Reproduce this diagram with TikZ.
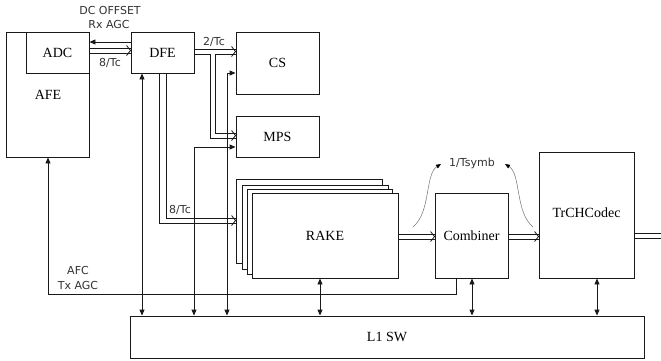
\documentclass[tikz,border=0pt]{standalone}
\usepackage{fontspec}
\setmainfont{Liberation Serif}
\newfontfamily\labfont{DejaVu Sans}
\usetikzlibrary{arrows.meta}
\begin{document}
\begin{tikzpicture}[x=1pt,y=-1pt,
  box/.style={draw=black!90,line width=0.9pt,fill=white,inner sep=0pt,font=\fontsize{14}{16}\selectfont},
  lab/.style={inner sep=0pt,text=black!80,font=\labfont\fontsize{11}{12}\selectfont},
  wire/.style={draw=black!90,line width=0.9pt},
  bus/.style={draw=black!90,line width=0.8pt},
  sarr/.style={wire,{Triangle[length=6pt,width=5pt]}-{Triangle[length=6pt,width=5pt]}},
  oarr/.style={wire,-{Triangle[length=6pt,width=5pt]}},
  chev/.pic={\draw[bus] (-4,-5) -- (0,0) -- (-4,5);},
  curv/.style={draw=black!55,line width=0.5pt,-{Triangle[length=5pt,width=4pt,color=black]}}]
\fill[white] (0,0) rectangle (661,360);
\useasboundingbox (0,0) rectangle (661,360);
% boxes
\node[box,minimum width=83pt,minimum height=125pt] (AFE) at (47.5,94.5) {};
\node[inner sep=0pt,font=\fontsize{14}{16}\selectfont] (AFEt) at (48,95) {AFE};
\node[box,minimum width=63pt,minimum height=41pt] (ADC) at (57.5,52.5) {ADC};
\node[box,minimum width=63pt,minimum height=41pt] (DFE) at (162.5,52.5) {DFE};
\node[box,minimum width=83pt,minimum height=62pt] (CS) at (277.5,63) {CS};
\node[box,minimum width=83pt,minimum height=41pt] (MPS) at (277.5,136.5) {MPS};
\node[box,minimum width=146pt,minimum height=84pt] (rk1) at (309,221) {};
\node[box,minimum width=146pt,minimum height=84pt] (rk2) at (315,227) {};
\node[box,minimum width=145pt,minimum height=85pt] (rk3) at (319.5,231.5) {};
\node[box,minimum width=146pt,minimum height=85pt] (RAKE) at (325,235.5) {RAKE};
\node[box,minimum width=73pt,minimum height=85pt] (Comb) at (471.5,235.5) {Combiner};
\node[box,minimum width=95pt,minimum height=126pt] (TrCH) at (586.5,215) {};
\node[inner sep=0pt,font=\fontsize{14}{16}\selectfont] (TrCHt) at (586.5,213) {TrCHCodec};
\node[box,minimum width=514pt,minimum height=42pt] (L1) at (387,337) {L1 SW};
% helper coordinates
\coordinate (yRx) at (0,42);
\coordinate (yA1) at (0,48);   \coordinate (yA2) at (0,53);  \coordinate (yAc) at (0,50.5);
\coordinate (yC1) at (0,49);   \coordinate (yC2) at (0,54);  \coordinate (yCc) at (0,51.5);
\coordinate (xM1) at (210,0);  \coordinate (xM2) at (215,0);
\coordinate (yM1) at (0,138);  \coordinate (yM2) at (0,133); \coordinate (yMc) at (0,135.5);
\coordinate (xR1) at (159,0);  \coordinate (xR2) at (166,0);
\coordinate (yR1) at (0,223);  \coordinate (yR2) at (0,218); \coordinate (yRc) at (0,220.5);
\coordinate (yB1) at (0,234);  \coordinate (yB2) at (0,239); \coordinate (yBc) at (0,236.5);
\coordinate (edge1) at (668,233.5); \coordinate (edge2) at (668,238.5);
\coordinate (xD) at (142,0);
\coordinate (xM) at (194,0);
\coordinate (yM) at (0,147);
\coordinate (xC) at (227,0);
\coordinate (yC) at (0,73);
\coordinate (xR) at (320,0);
\coordinate (xCo) at (472,0);
\coordinate (xT) at (597,0);
\coordinate (xF) at (456,0);
\coordinate (yF) at (0,294);
\coordinate (xA) at (48,0);
% bus (double line) connectors
% ADC => DFE
\draw[bus] (ADC.east |- yA1) -- (DFE.west |- yA1);
\draw[bus] (ADC.east |- yA2) -- (DFE.west |- yA2);
\pic at (DFE.west |- yAc) {chev};
% DFE => CS
\draw[bus] (DFE.east |- yC1) -- (CS.west |- yC1);
\draw[bus] (xM2 |- yC2) -- (CS.west |- yC2);
\pic at (CS.west |- yCc) {chev};
% DFE => MPS
\draw[bus] (DFE.east |- yC2) -| (xM1 |- yM1) -- (MPS.west |- yM1);
\draw[bus] (xM2 |- yC2) |- (MPS.west |- yM2);
\pic at (MPS.west |- yMc) {chev};
% DFE => RAKE
\draw[bus] (DFE.south -| xR1) |- (rk1.west |- yR1);
\draw[bus] (DFE.south -| xR2) |- (rk1.west |- yR2);
\pic at (rk1.west |- yRc) {chev};
% RAKE => Combiner
\draw[bus] (RAKE.east |- yB1) -- (Comb.west |- yB1);
\draw[bus] (RAKE.east |- yB2) -- (Comb.west |- yB2);
\pic at (Comb.west |- yBc) {chev};
% Combiner => TrCHCodec
\draw[bus] (Comb.east |- yB1) -- (TrCH.west |- yB1);
\draw[bus] (Comb.east |- yB2) -- (TrCH.west |- yB2);
\pic at (TrCH.west |- yBc) {chev};
% TrCHCodec => out
\draw[bus] (TrCH.east |- edge1) -- (edge1);
\draw[bus] (TrCH.east |- edge2) -- (edge2);
% single connectors
\draw[oarr] (DFE.west |- yRx) -- (ADC.east |- yRx);
\draw[sarr] (DFE.south -| xD) -- (L1.north -| xD);
\draw[sarr] (L1.north -| xM) |- (MPS.west |- yM);
\draw[sarr] (L1.north -| xC) |- (CS.west |- yC);
\draw[sarr] (RAKE.south -| xR) -- (L1.north -| xR);
\draw[sarr] (Comb.south -| xCo) -- (L1.north -| xCo);
\draw[sarr] (TrCH.south -| xT) -- (L1.north -| xT);
\draw[oarr] (Comb.south -| xF) |- (xA |- yF) -- (AFE.south -| xA);
% labels
\node[lab] (tDC) at (110,10) {DC OFFSET};
\node[lab] (tRx) at (109,24) {Rx AGC};
\node[lab] (t8a) at (110,63) {8/Tc};
\node[lab] (t2) at (214,42) {2/Tc};
\node[lab] (t8b) at (180,210) {8/Tc};
\node[lab] (tsym) at (472,163) {1/Tsymb};
\node[lab] (tAFC) at (78,270) {AFC};
\node[lab] (tTx) at (78,285) {Tx AGC};
% rate curves
\coordinate (cL0) at (413,227);
\coordinate (cL1) at (441,164);
\coordinate (cR0) at (533,227);
\coordinate (cR1) at (505,164);
\draw[curv] (cL0) .. controls (431,212) and (425,174) .. (cL1);
\draw[curv] (cR0) .. controls (515,212) and (521,174) .. (cR1);
\end{tikzpicture}
\end{document}
